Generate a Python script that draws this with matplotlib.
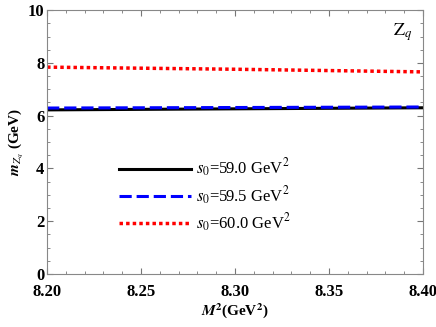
import matplotlib
matplotlib.use('Agg')
import matplotlib.pyplot as plt
from matplotlib.ticker import MultipleLocator, FormatStrFormatter

plt.rcParams['font.family'] = ['Liberation Serif', 'DejaVu Serif']
plt.rcParams['mathtext.fontset'] = 'stix'

# M^2 (GeV^2) and mass values (GeV)
m2 = [8.20, 8.25, 8.30, 8.35, 8.40]
mass_s590 = [6.22, 6.24, 6.26, 6.28, 6.30]
mass_s595 = [6.29, 6.30, 6.31, 6.32, 6.33]
mass_s600 = [7.84, 7.80, 7.76, 7.71, 7.66]
labels = [r'$s_0$=59.0 GeV$^2$', r'$s_0$=59.5 GeV$^2$', r'$s_0$=60.0 GeV$^2$']

fig = plt.figure(figsize=(4.36, 3.27), dpi=100)
ax = fig.add_axes([0.108, 0.162, 0.862, 0.807])

ax.plot(m2, mass_s590, '-', color='black', lw=2.2, label=labels[0])
ax.plot(m2, mass_s595, '--', color='#0000ff', lw=2.2, dashes=(4, 1.6), label=labels[1])
ax.plot(m2, mass_s600, ':', color='#ff0000', lw=2.5, dashes=(1, 0.9), label=labels[2])

ax.set_xlim(8.20, 8.40)
ax.set_ylim(0, 10)
ax.xaxis.set_major_locator(MultipleLocator(0.05))
ax.xaxis.set_minor_locator(MultipleLocator(0.01))
ax.yaxis.set_major_locator(MultipleLocator(2))
ax.yaxis.set_minor_locator(MultipleLocator(0.5))
ax.xaxis.set_major_formatter(FormatStrFormatter('%.2f'))
ax.tick_params(which='both', direction='in', top=True, right=True, color='#777777')
ax.tick_params(which='major', length=4, labelsize=12)
ax.tick_params(axis='x', which='major', pad=7)
ax.tick_params(axis='y', which='major', pad=2)
ax.tick_params(which='minor', length=2)
for lab in ax.get_xticklabels() + ax.get_yticklabels():
    lab.set_fontweight('bold')
for sp in ax.spines.values():
    sp.set_color('#888888')

ax.set_xlabel(r'$\boldsymbol{M}^{\mathbf{2}}$(GeV$^{\mathbf{2}}$)', fontsize=11, fontweight='bold', labelpad=1)
ax.set_ylabel(r'$\boldsymbol{m}_{\boldsymbol{Z_q}}$ (GeV)', fontsize=11, fontweight='bold', labelpad=1)

ax.text(0.945, 0.915, r'$\mathrm{Z}_q$', transform=ax.transAxes, fontsize=13, ha='center', va='center')

ax.legend(loc='upper left', bbox_to_anchor=(0.17, 0.475), frameon=False, fontsize=12,
          handlelength=4.3, handletextpad=0.3, labelspacing=0.3, borderpad=0)

fig.savefig('out.png', dpi=100)
